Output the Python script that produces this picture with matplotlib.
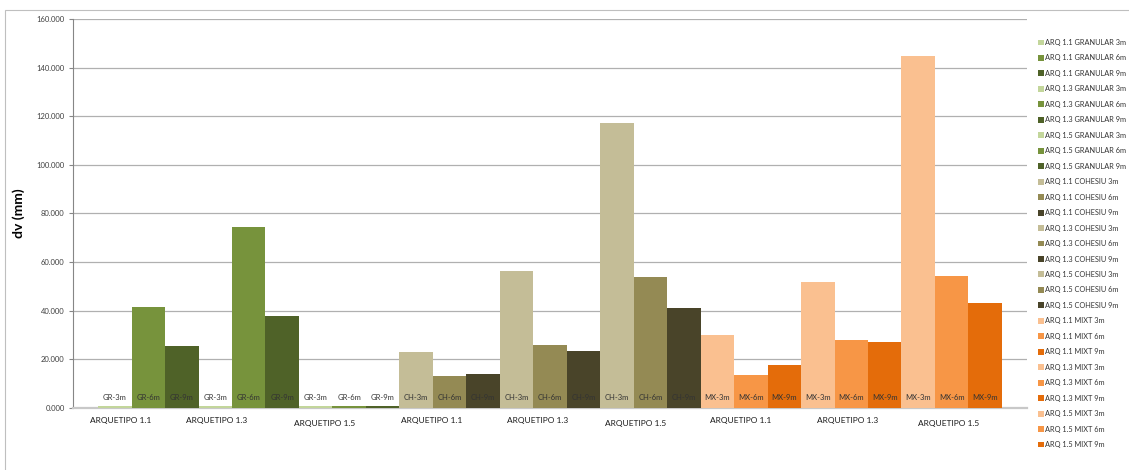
import matplotlib
matplotlib.use("Agg")
import matplotlib.pyplot as plt
from matplotlib.patches import Rectangle

plt.rcParams['font.family'] = ['Lato', 'DejaVu Sans']

# Soil types, archetypes and heights
soil_codes = ["GR", "CH", "MX"]
soil_names = ["GRANULAR", "COHESIU", "MIXT"]
archetypes = ["1.1", "1.3", "1.5"]
heights = ["3m", "6m", "9m"]

# Vertical displacement dv (mm), ordered archetype -> height for each soil
dv_granular = [0.8, 41.5, 25.5, 0.8, 74.6, 37.8, 0.8, 0.8, 0.8]
dv_cohesiu = [23.0, 13.2, 14.0, 56.4, 25.9, 23.4, 117.2, 53.9, 41.1]
dv_mixt = [30.0, 13.6, 17.7, 51.8, 28.0, 27.1, 144.8, 54.3, 43.2]

# Shades per soil (light / medium / dark for 3m / 6m / 9m)
soil_colors = [
    ["#C3D69B", "#77933C", "#4F6228"],
    ["#C4BD97", "#948A54", "#494429"],
    ["#FAC090", "#F79646", "#E46C0A"],
]

group_labels = ["ARQUETIPO 1.1", "ARQUETIPO 1.3", "ARQUETIPO 1.5"] * 3
group_label_x = [0.17, 3.04, 6.27, 9.46, 12.63, 15.57, 18.69, 21.88, 24.9]
group_label_drop = [8.8, 8.8, 11.0] * 3

y_ticks = [0, 20, 40, 60, 80, 100, 120, 140, 160]

fig = plt.figure(figsize=(11.29, 4.70), dpi=100)
ax = fig.add_axes([73 / 1129, 62 / 470, (1027 - 73) / 1129, (408 - 19) / 470])

# Outer chart frame
fig.patches.append(Rectangle((5 / 1129, -0.05), 1.2, (470 - 10) / 470 + 0.05,
                             transform=fig.transFigure, fill=False,
                             edgecolor="#BFBFBF", linewidth=0.8, zorder=0))

all_values = [dv_granular, dv_cohesiu, dv_mixt]
idx = 0
for s, vals in enumerate(all_values):
    for a, arq in enumerate(archetypes):
        for h, hgt in enumerate(heights):
            v = vals[a * 3 + h]
            ax.bar(idx, v, width=1.0, color=soil_colors[s][h], linewidth=0,
                   label=f"ARQ {arq} {soil_names[s]} {hgt}", zorder=3)
            ax.annotate(f"{soil_codes[s]}-{hgt}", xy=(idx, 0), xytext=(0, 7.5),
                        textcoords="offset points", ha="center", va="center",
                        fontsize=5.5, color="#333333", zorder=4)
            idx += 1

for x, lab, drop in zip(group_label_x, group_labels, group_label_drop):
    ax.annotate(lab, xy=(x, 0), xytext=(0, -drop), textcoords="offset points",
                ha="center", va="center", fontsize=6, color="#1A1A1A")

ax.set_xlim(-1.25, 27.25)
ax.set_ylim(0, 160)
ax.set_xticks([])
ax.set_yticks(y_ticks)
ax.set_yticklabels([f"{t:.3f}" for t in y_ticks])
ax.tick_params(axis="y", labelsize=5.5, labelcolor="#404040", length=3,
               color="#868686", width=0.8, pad=3)
ax.yaxis.grid(True, color="#B0B0B0", linewidth=0.9, zorder=0)
ax.set_axisbelow(True)
for side in ["top", "right"]:
    ax.spines[side].set_visible(False)
ax.spines["left"].set_color("#868686")
ax.spines["left"].set_linewidth(0.8)
ax.spines["bottom"].set_color("#C8C8C8")
ax.spines["bottom"].set_linewidth(1.6)

ax.set_ylabel("dv (mm)", fontsize=10, fontweight="bold", color="#000000", labelpad=8)

leg = fig.legend(loc="upper left", bbox_to_anchor=(1038 / 1129, 1 - 39 / 470),
                 frameon=False, fontsize=5.3, handlelength=0.85, handleheight=0.85,
                 handletextpad=0.15, labelspacing=1.15, borderaxespad=0, borderpad=0)
for t in leg.get_texts():
    t.set_color("#333333")

fig.savefig("out.png", dpi=100)
